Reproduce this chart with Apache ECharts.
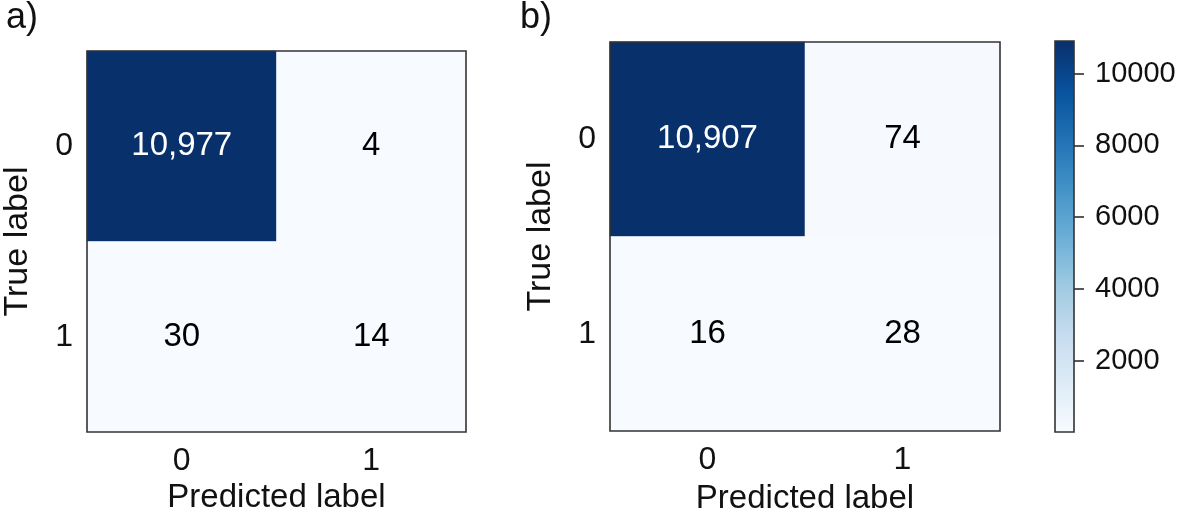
<!DOCTYPE html>
<html>
<head>
<meta charset="utf-8">
<script src="https://cdn.jsdelivr.net/npm/echarts@6/dist/echarts.min.js"></script>
<style>
  html, body { margin: 0; padding: 0; background: #fff; }
  #chart { width: 1180px; height: 520px; }
</style>
</head>
<body>
<div id="chart"></div>
<script>
// 数据
var predLabels = ['0', '1'];
var trueLabels = ['0', '1'];
var matrixA = [[10977, 4], [30, 14]];   // a) 行 = true label, 列 = predicted label
var matrixB = [[10907, 74], [16, 28]];  // b)
var colorbarTicks = [2000, 4000, 6000, 8000, 10000];
var panelTitles = ['a)', 'b)'];

// matplotlib Blues
var blues = ['#f7fbff', '#deebf7', '#c6dbef', '#9ecae1', '#6baed6', '#4292c6', '#2171b5', '#08519c', '#08306b'];

var FONT = 'Liberation Sans, Arial, sans-serif';
var myChart = echarts.init(document.getElementById('chart'));

function minOf(m) { return Math.min.apply(null, [].concat.apply([], m)); }
function maxOf(m) { return Math.max.apply(null, [].concat.apply([], m)); }

// 把矩阵转换为 heatmap 数据，文字颜色随数值深浅变化
function toHeatData(m) {
    var lo = minOf(m), hi = maxOf(m);
    var thresh = (lo + hi) / 2;
    var out = [];
    for (var i = 0; i < m.length; i++) {
        for (var j = 0; j < m[i].length; j++) {
            out.push({
                value: [j, i, m[i][j]],
                label: { color: m[i][j] > thresh ? '#ffffff' : '#000000' }
            });
        }
    }
    return out;
}

// 色条的渐变（从下到上 = 浅到深）
function colorbarGradient() {
    var stops = [];
    for (var k = 0; k < blues.length; k++) {
        stops.push({ offset: 1 - k / (blues.length - 1), color: blues[k] });
    }
    return new echarts.graphic.LinearGradient(0, 0, 0, 1, stops.reverse());
}

function catX(gridIndex, gap) {
    return {
        type: 'category', gridIndex: gridIndex, data: predLabels,
        name: 'Predicted label', nameLocation: 'middle', nameGap: gap,
        nameTextStyle: { fontSize: 33, color: '#111', fontFamily: FONT },
        axisLine: { show: false },
        axisTick: { alignWithLabel: true, length: 9, lineStyle: { color: '#222', width: 1.5 } },
        axisLabel: { fontSize: 32, color: '#111', margin: 13, fontFamily: FONT },
        splitLine: { show: false }, splitArea: { show: false }
    };
}

function catY(gridIndex, gap) {
    return {
        type: 'category', gridIndex: gridIndex, data: trueLabels, inverse: true,
        name: 'True label', nameLocation: 'middle', nameGap: gap,
        nameTextStyle: { fontSize: 34, color: '#111', fontFamily: FONT },
        axisLine: { show: false },
        axisTick: { alignWithLabel: true, length: 9, lineStyle: { color: '#222', width: 1.5 } },
        axisLabel: { fontSize: 32, color: '#111', margin: 14, fontFamily: FONT },
        splitLine: { show: false }, splitArea: { show: false }
    };
}

function cellLabel() {
    return {
        show: true, fontSize: 33, fontFamily: FONT,
        formatter: function (p) { return p.value[2].toLocaleString('en-US'); }
    };
}

var option = {
    backgroundColor: '#ffffff',
    animation: false,
    title: [
        { text: panelTitles[0], left: 6, top: 0, padding: 0, textStyle: { fontSize: 36, fontWeight: 'normal', color: '#111', fontFamily: FONT } },
        { text: panelTitles[1], left: 520, top: 0, padding: 0, textStyle: { fontSize: 36, fontWeight: 'normal', color: '#111', fontFamily: FONT } }
    ],
    grid: [
        { left: 85, top: 51, width: 381, height: 381, show: true, z: 5, backgroundColor: 'transparent', borderColor: '#333', borderWidth: 1.6 },
        { left: 610, top: 42, width: 390, height: 390, show: true, z: 5, backgroundColor: 'transparent', borderColor: '#333', borderWidth: 1.6 },
        { left: 1055, top: 41, width: 19, height: 391, show: true, z: 5, backgroundColor: 'transparent', borderColor: '#333', borderWidth: 1.6 }
    ],
    xAxis: [
        catX(0, 47),
        catX(1, 51),
        { type: 'category', gridIndex: 2, show: false, data: ['cb'] }
    ],
    yAxis: [
        catY(0, 52),
        catY(1, 52),
        {
            type: 'value', gridIndex: 2, position: 'right',
            min: minOf(matrixB), max: maxOf(matrixB),
            axisLine: { show: false },
            splitLine: { show: false },
            axisTick: { show: true, length: 10, customValues: colorbarTicks, lineStyle: { color: '#222', width: 1.5 } },
            axisLabel: {
                fontSize: 29, color: '#111', margin: 21, fontFamily: FONT, customValues: colorbarTicks,
                formatter: function (v) { return String(v); }
            }
        }
    ],
    visualMap: [
        {
            type: 'continuous', seriesIndex: 0, show: false,
            min: minOf(matrixA), max: maxOf(matrixA),
            inRange: { color: blues }
        },
        {
            type: 'continuous', seriesIndex: 1, show: false,
            min: minOf(matrixB), max: maxOf(matrixB),
            inRange: { color: blues }
        }
    ],
    series: [
        {
            type: 'heatmap', xAxisIndex: 0, yAxisIndex: 0, z: 2,
            data: toHeatData(matrixA), label: cellLabel(),
            itemStyle: { borderWidth: 0 }, emphasis: { disabled: true }
        },
        {
            type: 'heatmap', xAxisIndex: 1, yAxisIndex: 1, z: 2,
            data: toHeatData(matrixB), label: cellLabel(),
            itemStyle: { borderWidth: 0 }, emphasis: { disabled: true }
        },
        {
            // 色条：一根从最小值到最大值的柱子
            type: 'bar', xAxisIndex: 2, yAxisIndex: 2, z: 2,
            barWidth: '100%', silent: true,
            data: [maxOf(matrixB)],
            itemStyle: { color: colorbarGradient() }
        }
    ]
};

myChart.setOption(option);
</script>
</body>
</html>
